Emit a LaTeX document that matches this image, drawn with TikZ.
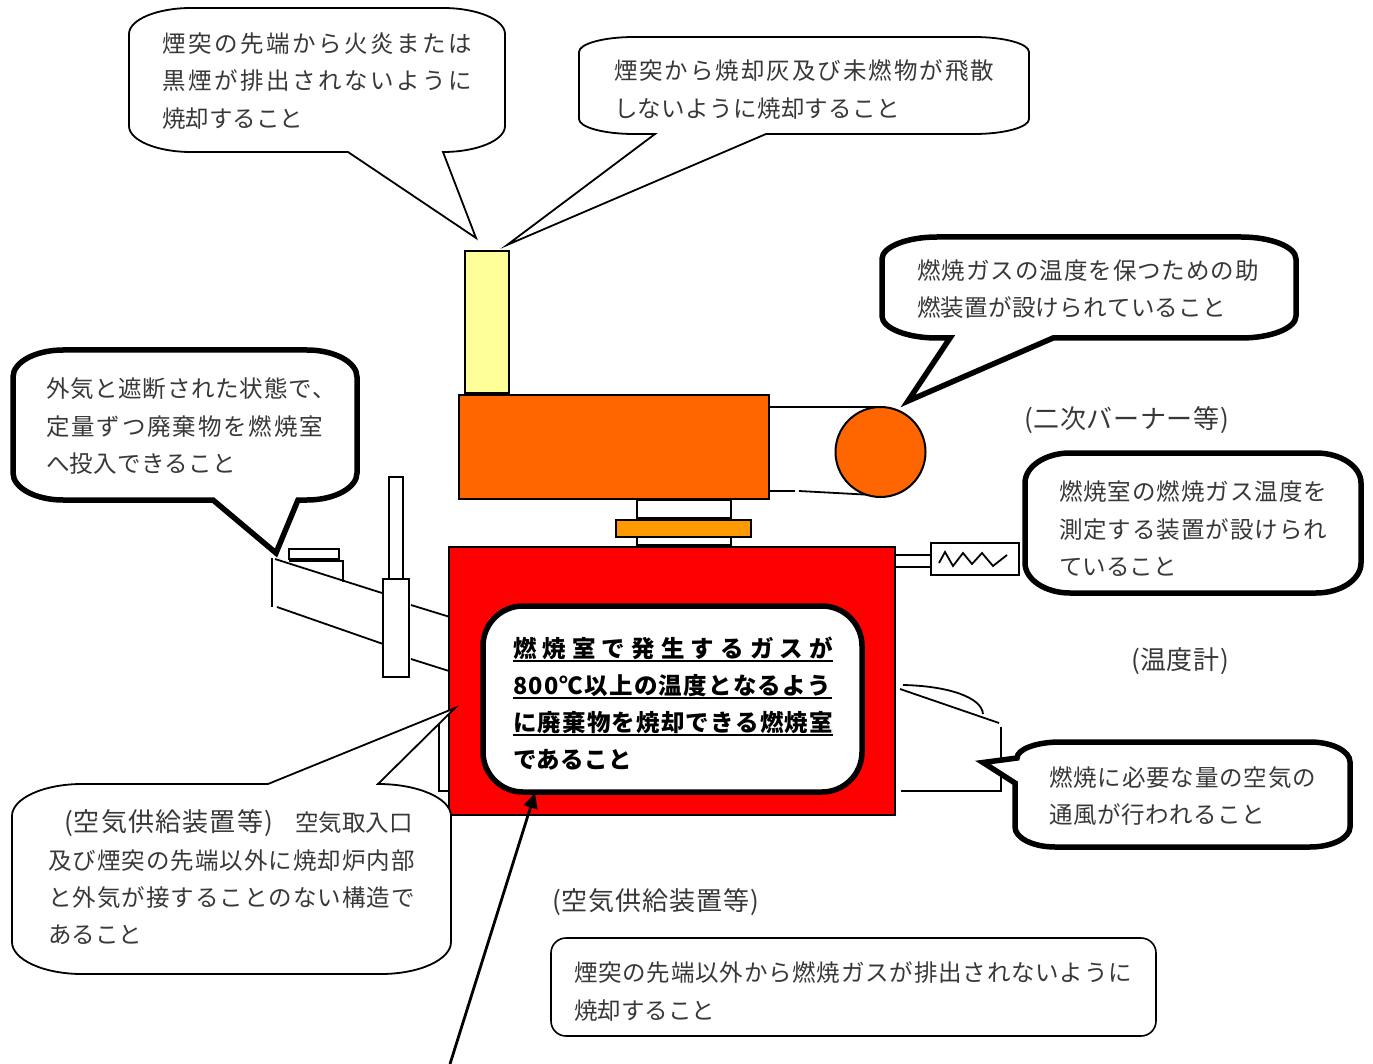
\documentclass[tikz,border=0pt]{standalone}
\usepackage{fontspec}
\setmainfont{Noto Sans CJK JP}
\usetikzlibrary{arrows.meta}
\definecolor{chimney}{HTML}{FFFF99}
\definecolor{kiln}{HTML}{FF6600}
\definecolor{collar}{HTML}{FF9900}
\definecolor{inkgray}{gray}{0.22}
\def\sprA#1{#1\sprB}
\def\sprB#1{\ifx#1\relax\else\hfil#1\expandafter\sprB\fi}
\tikzset{
  txt/.style={anchor=base west,inner sep=0pt,outer sep=0pt,text=inkgray,font=\fontsize{23.5}{26}\selectfont},
  ptxt/.style={txt,font=\fontsize{26}{28}\selectfont},
  btxt/.style={txt,text=black,font=\fontsize{23.5}{26}\selectfont\bfseries},
  ln/.style={draw=black,line width=1.8pt},
  bubble/.style={draw=black,fill=white,line width=1.8pt,miter limit=20},
  tbubble/.style={draw=black,fill=white,line width=5.5pt,miter limit=20},
  part/.style={draw=black,fill=white,line width=2pt},
}
% name, x, centre y, width, text
\newcommand\jl[6][txt]{\node[#1] (#2) at (#3,#4+9) {\hbox to #5pt{\sprA#6\relax}};}
\newcommand\nl[5][txt]{\node[#1] (#2) at (#3,#4+9) {\hbox{\sprA#5\relax}};}
% corner: from (x0,y0) round corner point (cx,cy) to (x1,y1)
\newcommand\rc[6]{.. controls ({#1+.55*(#3-#1)},{#2+.55*(#4-#2)}) and ({#5+.55*(#3-#5)},{#6+.55*(#4-#6)}) .. (#5,#6)}
\begin{document}
\begin{tikzpicture}[x=1pt,y=-1pt]
\useasboundingbox (0,0) rectangle (1373,1064);
\fill[white] (0,0) rectangle (1373,1064);

% chimney and burner
\draw[line width=2pt,fill=chimney] (465,251) rectangle (509,393);
\draw[line width=2pt,fill=kiln] (459,395) rectangle (769,499);
\draw[ln] (769,407) -- (880,407);
\draw[ln] (769,491) -- (795,491);
\draw[ln] (799,491) -- (873,495);
\draw[line width=2pt,fill=kiln] (880.5,452) circle[radius=45pt];

% throat
\draw[part] (637,500) rectangle (731,518);
\draw[part] (637,537) rectangle (731,545);
\draw[line width=2pt,fill=collar] (616,520) rectangle (751,537);

% feed chute
\draw[ln] (272,558) -- (272,607);
\draw[ln] (275,559) -- (382,593);
\draw[ln] (277,607) -- (386,645);
\draw[part] (289,549) rectangle (339,559);
\draw[ln] (289,561) -- (344,561);
\draw[ln] (343,561) -- (343,582);
\draw[part] (389,477) rectangle (403,579);
\draw[part] (383,579) rectangle (409,677);
\draw[ln] (411,605) -- (450,617);
\draw[ln] (411,659) -- (449,671);

% air intake stubs
\draw[ln] (439,720) -- (439,791) -- (449,791);
\draw[ln] (900,689) -- (999,723);
\draw[ln] (903,685) .. controls (950,686) and (982,698) .. (983,714);
\draw[ln] (1001,727) -- (1001,791) -- (901,791);

% furnace
\draw[line width=2pt,fill=red] (449,547) rectangle (895,815);
\draw[tbubble,rounded corners=40pt] (483,606) rectangle (862,792);

% thermometer
\draw[part] (895,555) rectangle (933,567);
\draw[part] (931,543) rectangle (1019,575);
\draw[ln,line join=miter] (939,563) -- (945,552) -- (953,566) -- (963,553) -- (972,564) -- (982,553) -- (993,566) -- (1007,555);

% arrow
\coordinate (arrowfoot) at (450,1064);
\coordinate (arrowtip) at (535,793);
\draw[line width=2.8pt,-{Triangle[length=15pt,width=14pt]}] (arrowfoot) -- (arrowtip);

% callouts
\draw[bubble] (348,152) -- (476,238) -- (443,152) \rc{443}{152}{505}{152}{505}{126} -- (505,34) \rc{505}{34}{505}{8}{443}{8} -- (191,8) \rc{191}{8}{129}{8}{129}{34} -- (129,126) \rc{129}{126}{129}{152}{191}{152} -- cycle;
\draw[bubble] (655,134) -- (507,245) -- (766,134) -- (974,134) \rc{974}{134}{1029}{134}{1029}{119} -- (1029,52) \rc{1029}{52}{1029}{37}{974}{37} -- (634,37) \rc{634}{37}{579}{37}{579}{52} -- (579,119) \rc{579}{119}{579}{134}{634}{134} -- cycle;
\draw[tbubble] (950,338) -- (908,401) -- (1053,338) -- (1241,338) \rc{1241}{338}{1296}{338}{1296}{316} -- (1296,259) \rc{1296}{259}{1296}{237}{1241}{237} -- (937,237) \rc{937}{237}{882}{237}{882}{259} -- (882,316) \rc{882}{316}{882}{338}{937}{338} -- cycle;
\draw[tbubble] (213,500) -- (276,553) -- (298,500) -- (307,500) \rc{307}{500}{357}{500}{357}{473} -- (357,377) \rc{357}{377}{357}{350}{307}{350} -- (63,350) \rc{63}{350}{13}{350}{13}{377} -- (13,473) \rc{13}{473}{13}{500}{63}{500} -- cycle;
\draw[tbubble] (1070,453) -- (1316,453) \rc{1316}{453}{1361}{453}{1361}{483} -- (1361,563) \rc{1361}{563}{1361}{593}{1316}{593} -- (1070,593) \rc{1070}{593}{1025}{593}{1025}{563} -- (1025,483) \rc{1025}{483}{1025}{453}{1070}{453} -- cycle;
\draw[tbubble] (1015,783) -- (983,762.5) -- (1017,758) \rc{1017}{758}{1017}{742}{1060}{742} -- (1310,742) \rc{1310}{742}{1350}{742}{1350}{762} -- (1350,827) \rc{1350}{827}{1350}{847}{1310}{847} -- (1055,847) \rc{1055}{847}{1015}{847}{1015}{827} -- cycle;
\draw[bubble] (268,784) -- (455,708) -- (378,784) \rc{378}{784}{451}{784}{451}{816} -- (451,942) \rc{451}{942}{451}{974}{381}{974} -- (82,974) \rc{82}{974}{12}{974}{12}{942} -- (12,816) \rc{12}{816}{12}{784}{82}{784} -- cycle;
\draw[draw=black,fill=white,line width=1.6pt,rounded corners=15pt] (551,938) rectangle (1156,1036);

% texts
\jl{a1}{162}{44}{310}{煙突の先端から火炎または}
\jl{a2}{162}{81}{310}{黒煙が排出されないように}
\nl{a3}{162}{119}{焼却すること}
\jl{b1}{614}{71}{380}{煙突から焼却灰及び未燃物が飛散}
\jl{b2}{614}{109}{286}{しないように焼却すること}
\jl{c1}{917}{271}{342}{燃焼ガスの温度を保つための助}
\jl{c2}{917}{308}{309}{燃装置が設けられていること}
\jl{d1}{46}{388}{290}{外気と遮断された状態で、}
\jl{d2}{46}{426}{277}{定量ずつ廃棄物を燃焼室}
\jl{d3}{46}{463}{190}{へ投入できること}
\jl[ptxt]{e1}{1024}{419}{205}{(二次バーナー等)}
\jl{f1}{1059}{491}{268}{燃焼室の燃焼ガス温度を}
\jl{f2}{1059}{529}{268}{測定する装置が設けられ}
\jl{f3}{1059}{566}{117}{ていること}
\jl[ptxt]{g1}{1131}{660}{98}{(温度計)}
\jl[btxt]{h1}{513}{648}{320}{燃焼室で発生するガスが}
\jl[btxt]{h2}{513}{685}{318}{800℃以上の温度となるよう}
\jl[btxt]{h3}{513}{722}{320}{に廃棄物を焼却できる燃焼室}
\jl[btxt]{h4}{513}{759}{119}{であること}
\draw[line width=1.6pt] (513,661) -- (833,661);
\draw[line width=1.6pt] (513,698) -- (832,698);
\draw[line width=1.6pt] (513,735) -- (833,735);
\jl{i1}{1049}{777}{267}{燃焼に必要な量の空気の}
\jl{i2}{1049}{814}{216}{通風が行われること}
\jl[ptxt]{j1}{64}{822}{209}{(空気供給装置等)}
\jl{j1b}{295}{822}{118}{空気取入口}
\jl{j2}{48}{860}{367}{及び煙突の先端以外に焼却炉内部}
\jl{j3}{48}{897}{367}{と外気が接することのない構造で}
\nl{j4}{48}{934}{あること}
\jl[ptxt]{k1}{552}{901}{207}{(空気供給装置等)}
\jl{l1}{574}{972}{558}{煙突の先端以外から燃焼ガスが排出されないように}
\nl{l2}{574}{1010}{焼却すること}
\end{tikzpicture}
\end{document}
